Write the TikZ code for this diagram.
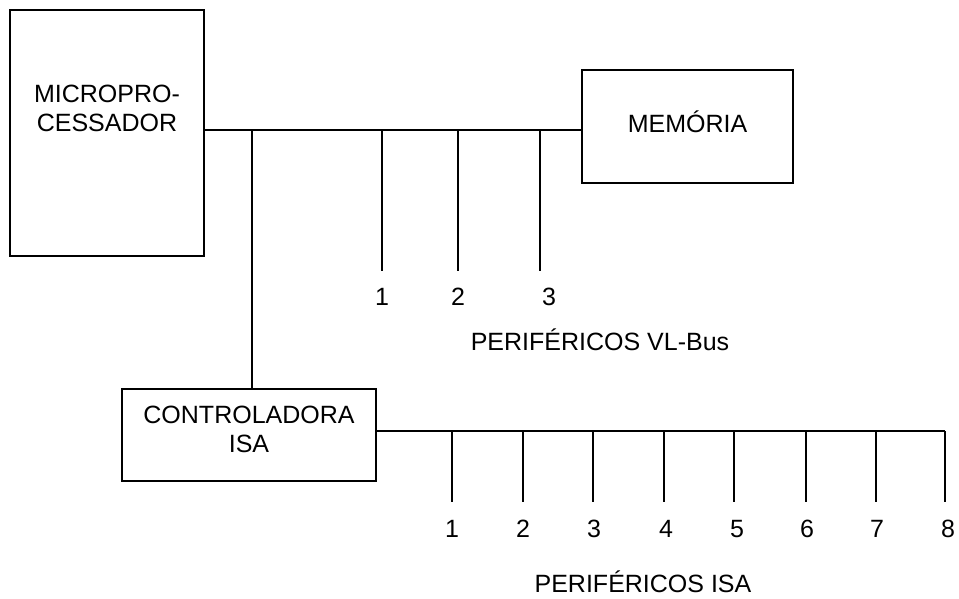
\documentclass[tikz,border=0pt]{standalone}
\usepackage{fontspec}
\setmainfont{Liberation Sans}
\begin{document}
\begin{tikzpicture}[x=1pt,y=-1pt,
  box/.style={draw,line width=1.6pt,inner sep=0pt},
  wire/.style={line width=1.5pt},
  txt/.style={anchor=base,inner sep=0pt,font=\fontsize{25}{29}\selectfont}]
\useasboundingbox (0,0) rectangle (959,598);
% boxes
\node[box,minimum width=194pt,minimum height=246pt] (micro) at (107,133) {};
\node[box,minimum width=211pt,minimum height=113pt] (mem) at (687.5,126.5) {};
\node[box,minimum width=254pt,minimum height=92pt] (ctrl) at (249,435) {};
% box texts
\node[txt] (microA) at (107,102) {MICROPRO-};
\node[txt] (microB) at (107,131) {CESSADOR};
\node[txt] (memT) at (687.5,132) {MEMÓRIA};
\node[txt] (ctrlA) at (249,423) {CONTROLADORA};
\node[txt] (ctrlB) at (249,452) {ISA};
% VL bus
\coordinate (vlL) at (204,130);
\coordinate (vlR) at (582,130);
\draw[wire] (vlL) -- (vlR);
\coordinate (j0) at (252,130);
\draw[wire] (j0) -- (j0 |- ctrl.north);
\foreach \x/\n/\lx in {382/1/382,458/2/458,540/3/549}{
  \coordinate (vt\n) at (\x,130);
  \coordinate (vb\n) at (\x,271);
  \draw[wire] (vt\n) -- (vb\n);
  \node[txt] (vl\n) at (\lx,305) {\n};
}
\node[txt] (vlTitle) at (600,350) {PERIFÉRICOS VL-Bus};
% ISA bus
\coordinate (isaL) at (376,431);
\coordinate (isaR) at (945,431);
\draw[wire] (isaL) -- (isaR);
\foreach \x/\n/\lx in {452/1/452,523/2/523,593/3/594,664/4/666,734/5/737,806/6/807,876/7/877,945/8/948}{
  \coordinate (it\n) at (\x,431);
  \coordinate (ib\n) at (\x,502);
  \draw[wire] (it\n) -- (ib\n);
  \node[txt] (il\n) at (\lx,537) {\n};
}
\node[txt] (isaTitle) at (643,592) {PERIFÉRICOS ISA};
\end{tikzpicture}
\end{document}
